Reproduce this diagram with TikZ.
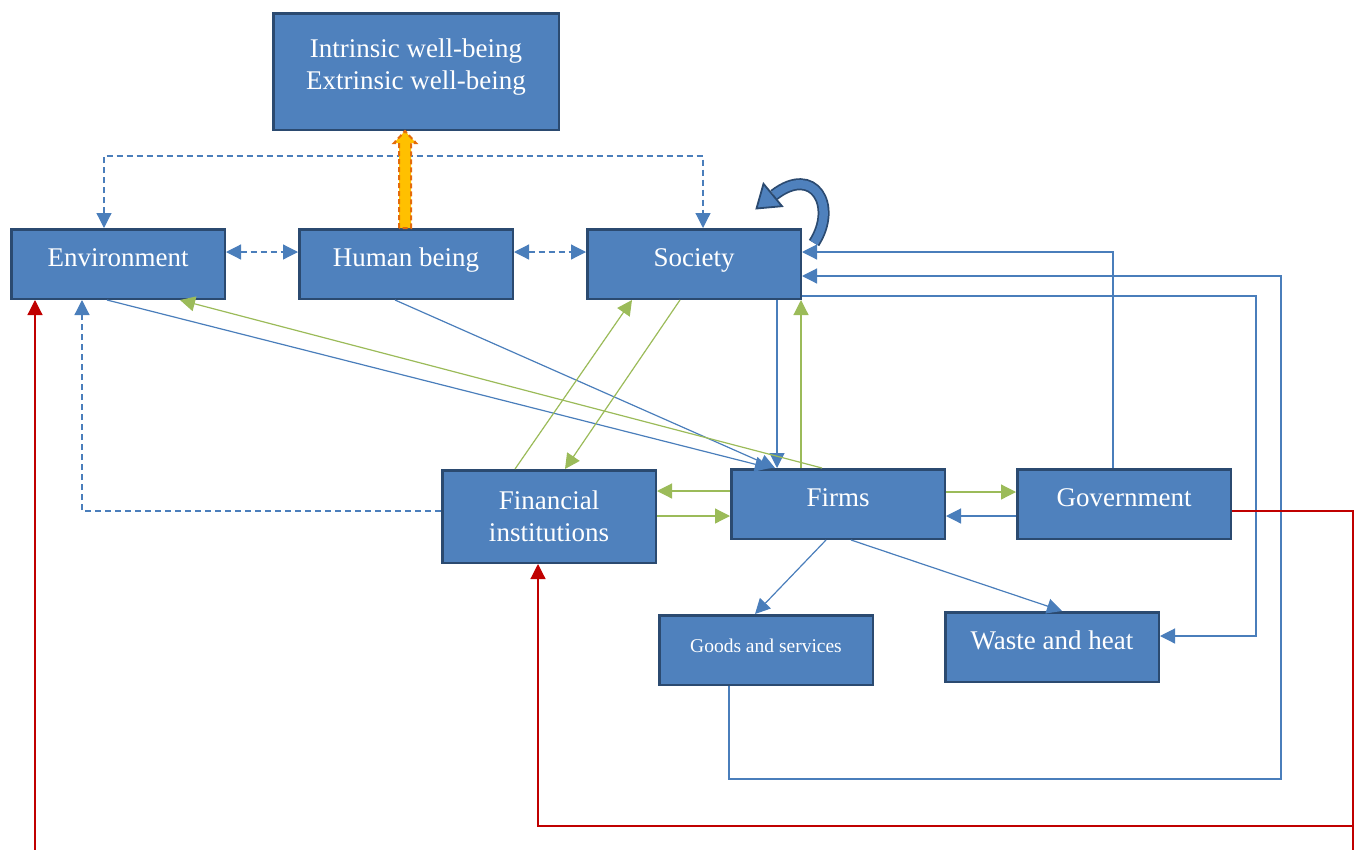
\documentclass[tikz,border=0pt]{standalone}
\usepackage{fontspec}
\setmainfont{Liberation Serif}
\usetikzlibrary{arrows.meta,calc}
\definecolor{boxfill}{HTML}{4F81BD}
\definecolor{boxline}{HTML}{2B4A70}
\definecolor{flowblue}{HTML}{4A7EBB}
\definecolor{flowgreen}{HTML}{9BBB59}
\definecolor{flowred}{HTML}{C00000}
\definecolor{gold}{HTML}{FFC000}
\definecolor{rim}{HTML}{E46C0A}

\begin{document}
\begin{tikzpicture}[
  x=1pt,y=-1pt,
  >={Triangle[length=15pt,width=15pt]},
  sector/.style={draw=boxline, fill=boxfill, line width=2.5pt, text=white, inner sep=0pt,
    minimum width=213.5pt, minimum height=69.5pt, font=\fontsize{27}{32}\selectfont},
  oneline/.style={sector, text height=19pt, text depth=15pt},
  bflow/.style={draw=flowblue, line width=1.2pt, ->},
  gflow/.style={draw=flowgreen, line width=1.2pt, ->},
  rflow/.style={draw=flowred, line width=1.2pt},
  dflow/.style={draw=flowblue, line width=1.2pt, dash pattern=on 6pt off 4pt}
]
\useasboundingbox (0,0) rectangle (1359,849);

% sectors
\node[sector, align=center, minimum width=285.5pt, minimum height=116.5pt, text depth=14pt] (wellbeing) at (416,71.5)
  {Intrinsic well-being\\Extrinsic well-being};
\node[oneline] (environment) at (118,264) {Environment};
\node[oneline] (human) at (406,264) {Human being};
\node[oneline] (society) at (694,264) {Society};
\node[sector, align=center, minimum height=92.5pt] (finance) at (549,516.5) {Financial\\institutions};
\node[oneline] (firms) at (838,504) {Firms};
\node[oneline] (government) at (1124,504) {Government};
\node[oneline, font=\fontsize{19.5}{23}\selectfont, text height=14pt, text depth=10pt] (goods) at (766,650) {Goods and services};
\node[oneline] (waste) at (1052,647) {Waste and heat};

% dashed links around the human being
\draw[dflow,<->] ([yshift=12pt]environment.east) -- ([yshift=12pt]environment.east -| human.west);
\draw[dflow,<->] ([yshift=12pt]human.east) -- ([yshift=12pt]human.east -| society.west);
\coordinate (overbar) at (400,156);
\draw[dflow,<->] ([xshift=-14pt]environment.north) |- (overbar) -| ([xshift=9pt]society.north);
\draw[dflow,->] ([yshift=5.5pt]finance.west) -| ([xshift=-36pt]environment.south);

% well-being lift
\coordinate (lift) at ([xshift=-1pt]human.north);
\coordinate (lifttip) at (lift |- wellbeing.south);
\draw[rim, fill=gold, line width=2pt, dash pattern=on 5pt off 3pt]
  ($(lift)+(-6,0)$) -- ($(lifttip)+(-6,12)$) -- ($(lifttip)+(-11,12)$) -- (lifttip)
  -- ($(lifttip)+(11,12)$) -- ($(lifttip)+(6,12)$) -- ($(lift)+(6,0)$) -- cycle;

% society feeding back on itself
\draw[boxline, line width=12pt] (814,243) .. controls (838,206) and (814,164) .. (774,195);
\draw[boxfill, line width=8.5pt] (814,243) .. controls (838,206) and (814,164) .. (774,195);
\fill[boxfill, draw=boxline, line width=1.8pt] (763.5,183.8) -- (756.5,208.5) -- (782,206.2) -- cycle;

% flows into firms
\draw[bflow] ([xshift=-11pt]environment.south) -- ([xshift=-68pt]firms.north);
\draw[bflow] ([xshift=-11pt]human.south) -- ([xshift=-63pt]firms.north);
\draw[bflow] ([xshift=83pt]society.south) -- ([xshift=83pt]society.south |- firms.north);

% green flows
\draw[gflow] ([xshift=-16pt]firms.north) -- ([xshift=62pt]environment.south);
\draw[gflow] ([xshift=-37pt]firms.north) -- ([xshift=-37pt]firms.north |- society.south);
\draw[gflow] ([xshift=-34pt]finance.north) -- ([xshift=-62pt]society.south);
\draw[gflow] ([xshift=-14pt]society.south) -- ([xshift=16pt]finance.north);
\draw[gflow] ([yshift=13pt]firms.west) -- ([yshift=13pt]firms.west -| finance.east);
\draw[gflow] ([yshift=-12pt]firms.west -| finance.east) -- ([yshift=-12pt]firms.west);
\draw[gflow] ([yshift=12pt]firms.east) -- ([yshift=12pt]firms.east -| government.west);
\draw[bflow] ([yshift=-12pt]government.west) -- ([yshift=-12pt]government.west -| firms.east);

% outputs of firms
\draw[bflow] ([xshift=-12pt]firms.south) -- ([xshift=-11pt]goods.north);
\draw[bflow] ([xshift=13pt]firms.south) -- ([xshift=10pt]waste.north);

% feedback loops on the right
\draw[bflow] ([xshift=-11pt]government.north) |- ([yshift=12pt]society.east);
\coordinate (goodscorner) at (1281,779);
\draw[bflow] ([xshift=-37pt]goods.south) |- (goodscorner) |- ([yshift=-12pt]society.east);
\coordinate (wastecorner) at (1256,296);
\draw[bflow] ([yshift=-32pt]society.east) -- (wastecorner) |- ([yshift=11pt]waste.east);

% red money lines
\coordinate (redfoot) at (1353,852);
\coordinate (redjoin) at (1353,826);
\coordinate (envfoot) at (35,852);
\draw[rflow] ([yshift=-7pt]government.east) -| (redfoot);
\draw[rflow,->] (redjoin) -| ([xshift=-11pt]finance.south);
\draw[rflow,->] (envfoot) -- ([xshift=-83pt]environment.south);

\end{tikzpicture}
\end{document}
